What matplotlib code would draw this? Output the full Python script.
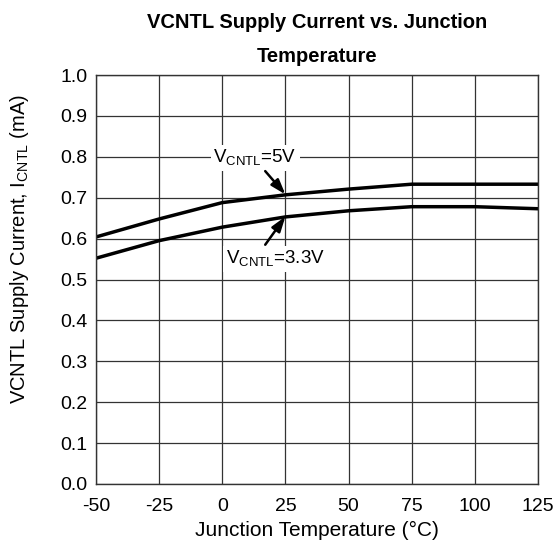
import numpy as np
import matplotlib.pyplot as plt

plt.rcParams['font.family'] = ['Liberation Sans', 'DejaVu Sans']
plt.rcParams['axes.unicode_minus'] = False

temp = [-50, -25, 0, 25, 50, 75, 100, 125]
i_5v = [0.604, 0.648, 0.688, 0.707, 0.721, 0.733, 0.733, 0.733]
i_33v = [0.552, 0.595, 0.628, 0.653, 0.668, 0.678, 0.678, 0.673]
xticks = [-50, -25, 0, 25, 50, 75, 100, 125]
yticks = np.arange(0, 1.01, 0.1)

fig = plt.figure(figsize=(5.59, 5.49), dpi=100)
ax = fig.add_axes([96/559, 1-484/549, 442/559, 409/549])

ax.plot(temp, i_5v, '-k', lw=2.5)
ax.plot(temp, i_33v, '-k', lw=2.5)

ax.set_xlim(-50, 125)
ax.set_ylim(0, 1.0)
ax.set_xticks(xticks)
ax.set_yticks(yticks)
ax.set_yticklabels(['%.1f' % v for v in yticks])
ax.grid(True, color='#333333', lw=0.9)
ax.tick_params(length=0, labelsize=14, colors='black')
ax.tick_params(axis='x', pad=10)
ax.tick_params(axis='y', pad=6)
for s in ax.spines.values():
	s.set_color('#333333')
	s.set_linewidth(1.0)

ax.set_xlabel('Junction Temperature (\u00b0C)', fontsize=15, labelpad=4)
ax.set_ylabel('VCNTL Supply Current, I$_{\\mathregular{CNTL}}$ (mA)', fontsize=14.5)
ax.yaxis.set_label_coords(-0.148, 0.575)
fig.text(317/559, 1-22/549, 'VCNTL Supply Current vs. Junction', ha='center', va='center',
	fontsize=14.5, fontweight='bold')
fig.text(317/559, 1-57/549, 'Temperature', ha='center', va='center',
	fontsize=14.5, fontweight='bold')

bbox = dict(boxstyle='square,pad=0.15', fc='white', ec='none')
ax.text(13, 0.797, 'V$_{\\mathregular{CNTL}}$=5V', ha='center', va='center', fontsize=13.5, bbox=bbox)
ax.text(21, 0.55, 'V$_{\\mathregular{CNTL}}$=3.3V', ha='center', va='center', fontsize=13.5, bbox=bbox)

arrow = dict(arrowstyle='-|>,head_length=0.9,head_width=0.3', color='black', lw=1.8,
	shrinkA=0, shrinkB=0)
ax.annotate('', xy=(25, 0.708), xytext=(17, 0.765), arrowprops=arrow)
ax.annotate('', xy=(25, 0.654), xytext=(17, 0.585), arrowprops=arrow)

fig.savefig('out.png', dpi=100)
